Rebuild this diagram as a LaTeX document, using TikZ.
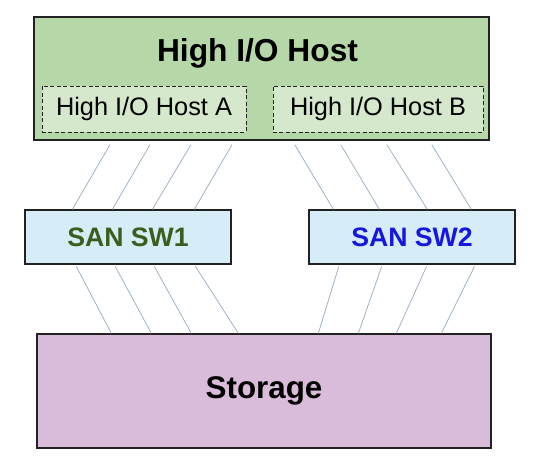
\documentclass[tikz,border=0pt]{standalone}
\usepackage{fontspec}
\setmainfont{Liberation Sans}
\setsansfont{Liberation Sans}
\usepackage{xcolor}
\definecolor{hostgreen}{HTML}{B6D7A8}
\definecolor{subgreen}{HTML}{D5E8CC}
\definecolor{switchcyan}{HTML}{D6EDF8}
\definecolor{storagepink}{HTML}{D9BCD9}
\definecolor{boxborder}{HTML}{222222}
\definecolor{linkgray}{HTML}{9FB2C4}
\definecolor{swonegreen}{HTML}{3B5E1C}
\definecolor{swtwoblue}{HTML}{1616E0}
\usepackage{tikz}
\usetikzlibrary{positioning, calc}
\tikzset{
  every node/.style={font=\sffamily},
  hostbox/.style={
    rectangle, draw=boxborder, fill=hostgreen, line width=1pt,
    minimum width=341.25pt, minimum height=92.25pt, inner sep=0pt
  },
  subhost/.style={
    rectangle, draw=boxborder, fill=subgreen, line width=0.7pt,
    dash pattern=on 3pt off 1.8pt, minimum height=34.5pt, inner sep=0pt,
    font=\sffamily\fontsize{19}{21}\selectfont
  },
  switchbox/.style={
    rectangle, draw=boxborder, fill=switchcyan, line width=1pt,
    minimum width=154.5pt, minimum height=40.5pt, inner sep=0pt,
    font=\sffamily\bfseries\fontsize{20}{22}\selectfont
  },
  storagebox/.style={
    rectangle, draw=boxborder, fill=storagepink, line width=1pt,
    minimum width=340.5pt, minimum height=85.5pt, inner sep=0pt,
    font=\sffamily\bfseries\fontsize{23.5}{26}\selectfont
  },
  sanlink/.style={draw=linkgray, line width=0.6pt}
}

\begin{document}
\begin{tikzpicture}[x=0.75pt, y=-0.75pt]
\useasboundingbox (0,0) rectangle (554,467);

\node[hostbox] (host) at (261.5,78.5) {};
\node[anchor=base, font=\sffamily\bfseries\fontsize{23.8}{26}\selectfont]
   (hosttitle) at (257.5,62) {High I/O Host};
\node[subhost, minimum width=153pt] (hosta) at (144,109) {High I/O Host A};
\node[subhost, minimum width=157.5pt] (hostb) at (378,109) {High I/O Host B};

\node[switchbox, text=swonegreen] (sw1) at (128,237) {SAN SW1};
\node[switchbox, text=swtwoblue] (sw2) at (412,237) {SAN SW2};

\node[storagebox] (storage) at (264,391) {Storage};

% host -> switches
\draw[sanlink, shorten <=3.5pt] ($(host.south west)+(79,0)$) -- ($(sw1.north west)+(48,0)$);
\draw[sanlink, shorten <=3.5pt] ($(host.south west)+(119,0)$) -- ($(sw1.north west)+(88,0)$);
\draw[sanlink, shorten <=3.5pt] ($(host.south west)+(160,0)$) -- ($(sw1.north west)+(128,0)$);
\draw[sanlink, shorten <=3.5pt] ($(host.south west)+(201,0)$) -- ($(sw1.north west)+(170,0)$);
\draw[sanlink, shorten <=3.5pt] ($(host.south west)+(259,0)$) -- ($(sw2.north west)+(25,0)$);
\draw[sanlink, shorten <=3.5pt] ($(host.south west)+(305,0)$) -- ($(sw2.north west)+(71,0)$);
\draw[sanlink, shorten <=3.5pt] ($(host.south west)+(351,0)$) -- ($(sw2.north west)+(119,0)$);
\draw[sanlink, shorten <=3.5pt] ($(host.south west)+(396,0)$) -- ($(sw2.north west)+(163,0)$);

% switches -> storage
\draw[sanlink, shorten <=1.5pt] ($(sw1.south west)+(51,0)$) -- ($(storage.north west)+(75,0)$);
\draw[sanlink, shorten <=1.5pt] ($(sw1.south west)+(90,0)$) -- ($(storage.north west)+(115,0)$);
\draw[sanlink, shorten <=1.5pt] ($(sw1.south west)+(129,0)$) -- ($(storage.north west)+(155,0)$);
\draw[sanlink, shorten <=1.5pt] ($(sw1.south west)+(170,0)$) -- ($(storage.north west)+(202,0)$);
\draw[sanlink, shorten <=1.5pt] ($(sw2.south west)+(31,0)$) -- ($(storage.north west)+(282,0)$);
\draw[sanlink, shorten <=1.5pt] ($(sw2.south west)+(74,0)$) -- ($(storage.north west)+(322,0)$);
\draw[sanlink, shorten <=1.5pt] ($(sw2.south west)+(119,0)$) -- ($(storage.north west)+(360,0)$);
\draw[sanlink, shorten <=1.5pt] ($(sw2.south west)+(167,0)$) -- ($(storage.north west)+(405,0)$);
\end{tikzpicture}
\end{document}
